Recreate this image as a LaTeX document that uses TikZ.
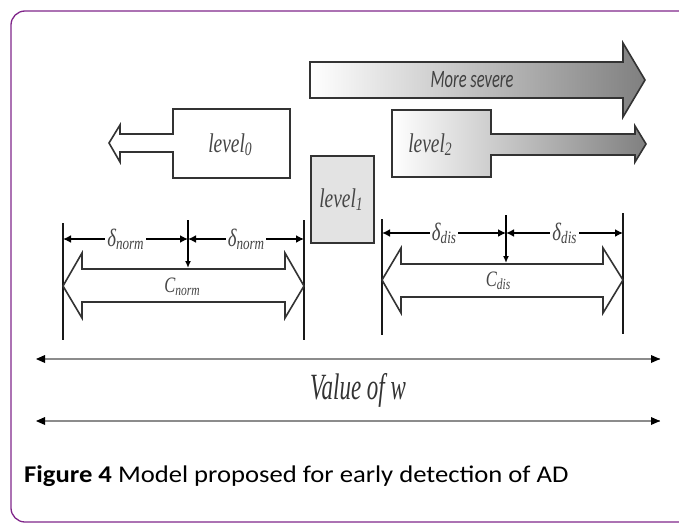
\documentclass[tikz,border=0pt]{standalone}
\usepackage{fontspec}
\newfontfamily\capfont{Carlito}
\newfontfamily\dfont{Liberation Serif}
\usetikzlibrary{arrows.meta}
\definecolor{framepurple}{RGB}{128,38,138}
\definecolor{txtgray}{RGB}{70,70,70}
\newcommand\sqz[2]{\scalebox{#1}[1]{#2}}
% label with subscript: #1 size, #2 base text, #3 subscript
\newcommand\sublbl[3]{{\fontsize{#1}{#1}\selectfont\dfont\itshape #2}\raisebox{-0.3em}{\fontsize{0.7\dimexpr#1pt\relax}{#1}\selectfont\dfont\itshape #3}}
\tikzset{
  outl/.style={draw=black!80, line width=1.6pt, line join=miter},
  dimline/.style={draw=black!90, line width=1.8pt},
  deltaarrow/.style={draw=black, line width=2.4pt, {Latex[length=8pt,width=8pt]}-{Latex[length=8pt,width=8pt]}},
  downarrow/.style={draw=black, line width=1.6pt, -{Latex[length=7pt,width=6pt]}},
  wline/.style={draw=black!45, line width=1.6pt},
  wtip/.style={fill=black},
  lbl/.style={text=txtgray, inner sep=1pt},
  dlbl/.style={text=txtgray, fill=white, inner sep=2pt},
}
\begin{document}
\begin{tikzpicture}[x=1pt,y=-1pt]
\useasboundingbox (0,0) rectangle (679,524);
% frame
\draw[framepurple, line width=1.3pt, rounded corners=14pt]
  (700,11) -- (11,11) -- (11,522) -- (700,522);

% More severe arrow
\draw[outl, left color=white, right color=black!50]
  (310,62) -- (623,62) -- (623,43) -- (645,80) -- (623,117) -- (623,98) -- (310,98) -- cycle;
\node[text=black!75, inner sep=1pt] (ms) at (472,80) {\sqz{0.66}{\fontsize{25}{28}\selectfont\capfont\itshape More severe}};

% level0 with left arrow
\draw[outl, fill=white]
  (173,109) -- (290,109) -- (290,178) -- (173,178) -- (173,152) -- (120,152) -- (120,162)
  -- (109,143) -- (120,125) -- (120,134) -- (173,134) -- cycle;
\node[lbl] (l0) at (230,145) {\sqz{0.72}{\sublbl{27}{level}{0}}};

% level2 with right arrow
\draw[outl, left color=white, right color=black!50]
  (392,110) -- (491,110) -- (491,134) -- (635,134) -- (635,126) -- (646,144) -- (635,162)
  -- (635,155) -- (491,155) -- (491,177) -- (392,177) -- cycle;
\node[lbl] (l2) at (430,145) {\sqz{0.72}{\sublbl{27}{level}{2}}};

% level1
\draw[draw=black!80, line width=2pt, fill=black!11] (311,156) rectangle (374,243);
\node[lbl] (l1) at (341,200) {\sqz{0.72}{\sublbl{27}{level}{1}}};

% ---- left dimension group
\coordinate (nL) at (63,239);
\coordinate (nM) at (188,239);
\coordinate (nR) at (304,239);
\coordinate (nT) at (188,220);
\coordinate (nB) at (188,268);
\draw[dimline] (63,223) -- (63,340);
\draw[dimline] (304,220) -- (304,340);
\draw[downarrow] (nT) -- (nB);
\draw[deltaarrow] (nL) -- node[dlbl] (dn1) {\sqz{0.75}{\sublbl{25}{δ}{norm}}} (nM);
\draw[deltaarrow] (nM) -- node[dlbl] (dn2) {\sqz{0.75}{\sublbl{25}{δ}{norm}}} (nR);
\draw[outl, fill=white]
  (63,286) -- (82,253) -- (82,269) -- (285,269) -- (285,253) -- (304,286) -- (285,318)
  -- (285,302) -- (82,302) -- (82,318) -- cycle;
\node[lbl] (cn) at (182,287) {\sqz{0.75}{\sublbl{22}{C}{norm}}};

% ---- right dimension group
\coordinate (dL) at (382,233);
\coordinate (dM) at (506,233);
\coordinate (dR) at (623,233);
\coordinate (dT) at (506,215);
\coordinate (dB) at (506,263);
\draw[dimline] (382,219) -- (382,335);
\draw[dimline] (623,213) -- (623,334);
\draw[downarrow] (dT) -- (dB);
\draw[deltaarrow] (dL) -- node[dlbl] (dd1) {\sqz{0.75}{\sublbl{25}{δ}{dis}}} (dM);
\draw[deltaarrow] (dM) -- node[dlbl] (dd2) {\sqz{0.75}{\sublbl{25}{δ}{dis}}} (dR);
\draw[outl, fill=white]
  (382,280) -- (401,248) -- (401,264) -- (603,264) -- (603,248) -- (623,280) -- (603,313)
  -- (603,297) -- (401,297) -- (401,313) -- cycle;
\node[lbl] (cd) at (498,281) {\sqz{0.75}{\sublbl{22}{C}{dis}}};

% ---- value of w
\coordinate (w1a) at (38,359);
\coordinate (w1b) at (660,359);
\coordinate (w2a) at (38,421);
\coordinate (w2b) at (660,421);
\draw[wline] (w1a) -- (w1b);
\draw[wline] (w2a) -- (w2b);
\fill[wtip] (36,359) -- (45,355) -- (45,363) -- cycle;
\fill[wtip] (660,359) -- (651,355) -- (651,363) -- cycle;
\fill[wtip] (36,421) -- (45,417) -- (45,425) -- cycle;
\fill[wtip] (660,421) -- (651,417) -- (651,425) -- cycle;
\node[text=black!80, inner sep=0pt] (vw) at (358,390) {\sqz{0.62}{\fontsize{37}{40}\selectfont\dfont\itshape Value of w}};

% caption
\node[anchor=base west, inner sep=0pt] (cap) at (24,482)
  {\sqz{1.11}{\fontsize{24}{26}\selectfont\capfont\textbf{Figure 4} Model proposed for early detection of AD}};
\end{tikzpicture}
\end{document}
